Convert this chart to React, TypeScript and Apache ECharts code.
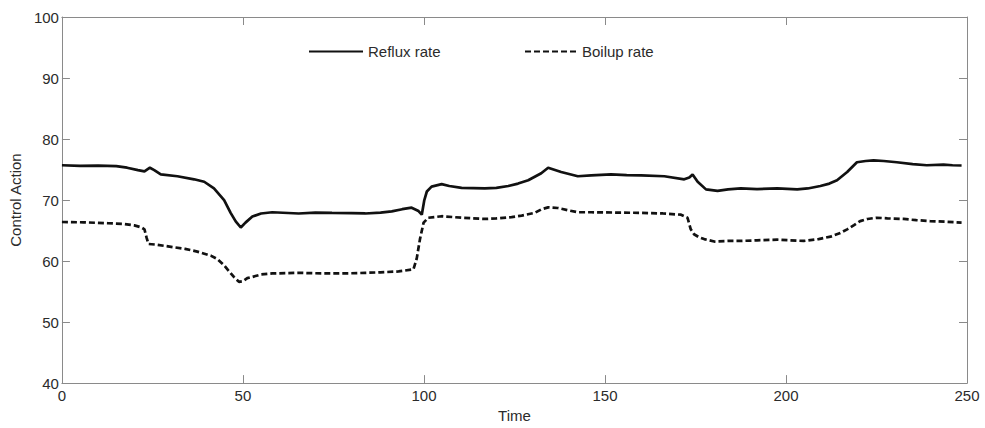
import React, { useEffect, useRef } from "react";
import * as echarts from "echarts";

// Time stamps and control actions for the reflux rate (solid line)
const refluxTime = [
  0, 5, 10, 15, 18, 21, 22.8, 24.3, 25.5, 27.3, 31.9, 36.5, 39.3, 42, 44.8, 46.6, 48, 49.4, 50.7,
  52.6, 55, 58.1, 65.4, 70, 74.6, 80, 83.8, 88, 91.1, 94, 96.6, 98.5, 99.4, 100.1, 100.8, 102.1,
  104.9, 107, 110.4, 116.8, 120, 123.3, 126, 128.8, 132.4, 134.3, 137.9, 142.5, 146.2, 151.7, 156,
  160, 166.4, 171.9, 173.3, 174.2, 175.6, 177.9, 181.1, 184, 187.5, 192, 197.6, 203.1, 206, 209.5,
  212, 214.1, 216.9, 219.6, 222, 224.2, 227, 230.6, 235, 238.9, 243.5, 246, 248.5,
];
const refluxRate = [
  75.7, 75.6, 75.65, 75.55, 75.3, 74.9, 74.7, 75.3, 74.9, 74.2, 73.9, 73.4, 73.0, 71.9, 70.0, 67.9,
  66.5, 65.5, 66.3, 67.3, 67.8, 68.0, 67.8, 67.95, 67.9, 67.85, 67.8, 67.95, 68.15, 68.5, 68.75,
  68.2, 67.6, 70.0, 71.4, 72.2, 72.6, 72.3, 72.0, 71.9, 72.0, 72.3, 72.7, 73.25, 74.4, 75.3, 74.6,
  73.9, 74.05, 74.2, 74.1, 74.05, 73.9, 73.4, 73.7, 74.2, 73.0, 71.75, 71.5, 71.75, 71.9, 71.8,
  71.9, 71.75, 71.9, 72.3, 72.7, 73.25, 74.6, 76.2, 76.4, 76.5, 76.4, 76.2, 75.9, 75.7, 75.8, 75.7,
  75.66,
];

// Time stamps and control actions for the boilup rate (dashed line)
const boilupTime = [
  0, 6, 12.7, 17, 20, 22, 22.8, 23.4, 23.9, 26, 31, 34, 37.4, 41.1, 43, 44.8, 46.2, 47.5, 48.9, 50,
  51.2, 52.6, 55, 58.1, 65.4, 70, 74.6, 80, 83.8, 88, 93, 97.1, 98, 98.9, 99.9, 101.2, 104.9, 110.4,
  116.8, 120, 124.2, 127, 130.6, 132.5, 134.3, 137, 140, 142.5, 146.2, 153, 160, 166, 171, 172.8,
  173.7, 174.6, 176, 177.4, 180.2, 184, 187.5, 192, 197.6, 201, 204.9, 209, 212.3, 215, 216.9,
  218.8, 220.5, 222.5, 225.1, 228, 232.5, 236, 239.8, 244, 248.5,
];
const boilupRate = [
  66.4, 66.35, 66.2, 66.1, 65.85, 65.5, 65.2, 63.8, 62.8, 62.7, 62.25, 62.0, 61.55, 60.9, 60.3,
  59.3, 58.3, 57.4, 56.6, 56.7, 57.2, 57.4, 57.8, 57.97, 58.07, 58.0, 57.97, 58.0, 58.07, 58.15,
  58.3, 58.65, 60.4, 63.6, 66.3, 67.1, 67.35, 67.1, 66.9, 67.0, 67.2, 67.45, 67.9, 68.5, 68.8,
  68.7, 68.3, 68.0, 68.0, 67.95, 67.9, 67.8, 67.6, 67.1, 65.2, 64.4, 63.9, 63.6, 63.2, 63.3, 63.3,
  63.4, 63.5, 63.4, 63.3, 63.6, 64.0, 64.6, 65.2, 65.9, 66.55, 66.9, 67.1, 67.0, 66.9, 66.7,
  66.55, 66.45, 66.3,
];

const xTicks = { min: 0, max: 250, interval: 50 };
const yTicks = { min: 40, max: 100, interval: 10 };

const FONT = "'Liberation Sans', Arial, sans-serif";
const AXIS_COLOR = "#8a8a8a";
const TEXT_COLOR = "#2b2b2b";
const LINE_COLOR = "#111111";

const zip = (t: number[], v: number[]) => t.map((x, i) => [x, v[i]]);

export default function App() {
  const ref = useRef<HTMLDivElement>(null);

  useEffect(() => {
    if (!ref.current) return;
    const chart = echarts.init(ref.current, null, { renderer: "svg" });

    const axisCommon = {
      axisLine: { show: true, onZero: false, lineStyle: { color: AXIS_COLOR, width: 1 } },
      axisTick: { show: true, inside: true, length: 8, lineStyle: { color: AXIS_COLOR } },
      splitLine: { show: false },
    };
    const labelStyle = { color: TEXT_COLOR, fontFamily: FONT, fontSize: 15 };

    // legend entries show only the line sample, no marker
    const legendCommon = {
      top: 39,
      itemHeight: 16,
      textStyle: labelStyle,
      itemStyle: { opacity: 0 },
    };

    chart.setOption({
      animation: false,
      backgroundColor: "#ffffff",
      grid: { left: 59, right: 18, top: 17, bottom: 38 },
      legend: [
        { ...legendCommon, data: ["Reflux rate"], left: 303, itemWidth: 54 },
        { ...legendCommon, data: ["Boilup rate"], left: 519, itemWidth: 52 },
      ],
      xAxis: [
        {
          type: "value",
          ...xTicks,
          position: "bottom",
          name: "Time",
          nameLocation: "middle",
          nameGap: 20,
          nameTextStyle: labelStyle,
          axisLabel: { ...labelStyle, margin: 5 },
          ...axisCommon,
        },
        {
          type: "value",
          ...xTicks,
          position: "top",
          axisLabel: { show: false },
          ...axisCommon,
        },
      ],
      yAxis: [
        {
          type: "value",
          ...yTicks,
          position: "left",
          name: "Control Action",
          nameLocation: "middle",
          nameGap: 34,
          nameTextStyle: labelStyle,
          axisLabel: { ...labelStyle, margin: 3 },
          ...axisCommon,
        },
        {
          type: "value",
          ...yTicks,
          position: "right",
          axisLabel: { show: false },
          ...axisCommon,
        },
      ],
      series: [
        {
          name: "Reflux rate",
          type: "line",
          data: zip(refluxTime, refluxRate),
          symbol: "none",
          lineStyle: { color: LINE_COLOR, width: 2.7 },
          itemStyle: { color: LINE_COLOR },
        },
        {
          name: "Boilup rate",
          type: "line",
          data: zip(boilupTime, boilupRate),
          symbol: "none",
          lineStyle: { color: LINE_COLOR, width: 2.7, type: [6, 3] },
          itemStyle: { color: LINE_COLOR },
        },
      ],
    });

    return () => chart.dispose();
  }, []);

  return <div ref={ref} style={{ width: 985, height: 428, position: "absolute", left: 0, top: 0 }} />;
}
